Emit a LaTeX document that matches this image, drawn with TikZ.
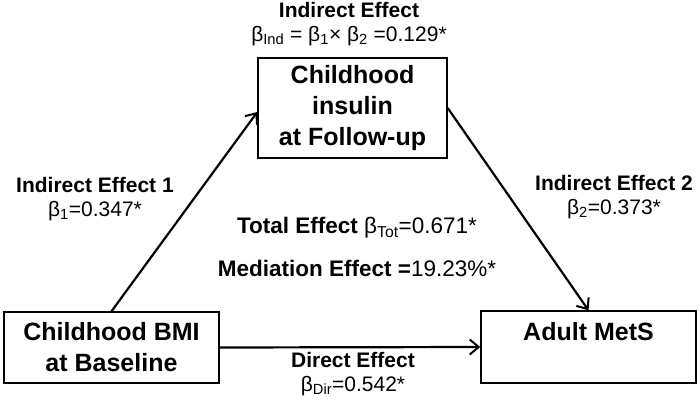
\documentclass[tikz,border=0pt]{standalone}
\usepackage{fontspec}
\setmainfont{Liberation Sans}
\usetikzlibrary{arrows.meta, positioning}

\begin{document}
\begin{tikzpicture}[
      x=1pt, y=-1pt,
      box/.style={draw, line width=1.4pt, align=center, inner sep=0pt,
                  font=\fontsize{25}{31}\selectfont\bfseries},
      lbl/.style={align=center, inner sep=0pt, font=\fontsize{21}{24}\selectfont},
      big/.style={lbl, font=\fontsize{22.5}{26}\selectfont},
      arr/.style={-{Straight Barb[length=9pt, width=15pt, line width=2pt]}, line width=2.2pt}
  ]
    \useasboundingbox (0,0) rectangle (700,403);

    \node[box, minimum width=189pt, minimum height=100pt] (ins)  at (352.5,108) {Childhood\\insulin\\at Follow-up};
    \node[box, minimum width=215pt, minimum height=71pt]  (bmi)  at (111.5,347.5) {Childhood BMI\\at Baseline};
    \node[box, minimum width=215pt, minimum height=72pt]  (mets) at (588.5,347) {Adult MetS\\\mbox{}};

    \draw[arr] (bmi.north) -- ([yshift=-4pt]ins.west);
    \draw[arr] (ins.east) -- (mets.north);
    \draw[arr] (bmi.east) -- (mets.west);

    % Effect labels
    \node[lbl] (indtop) at (349,24)  {\textbf{Indirect Effect}\\β\textsubscript{Ind} = β\textsubscript{1}× β\textsubscript{2} =0.129*};
    \node[lbl] (ind1)   at (95,199)  {\textbf{Indirect Effect 1}\\β\textsubscript{1}=0.347*};
    \node[lbl] (ind2)   at (614,197) {\textbf{Indirect Effect 2}\\β\textsubscript{2}=0.373*};
    \node[big] (tot)    at (357,228) {\textbf{Total Effect} β\textsubscript{Tot}=0.671*};
    \node[big] (medeff) at (357,268) {\textbf{Mediation Effect =}19.23\%*};
    \node[lbl] (dir)    at (353,374) {\textbf{Direct Effect}\\β\textsubscript{Dir}=0.542*};
  \end{tikzpicture}
\end{document}
